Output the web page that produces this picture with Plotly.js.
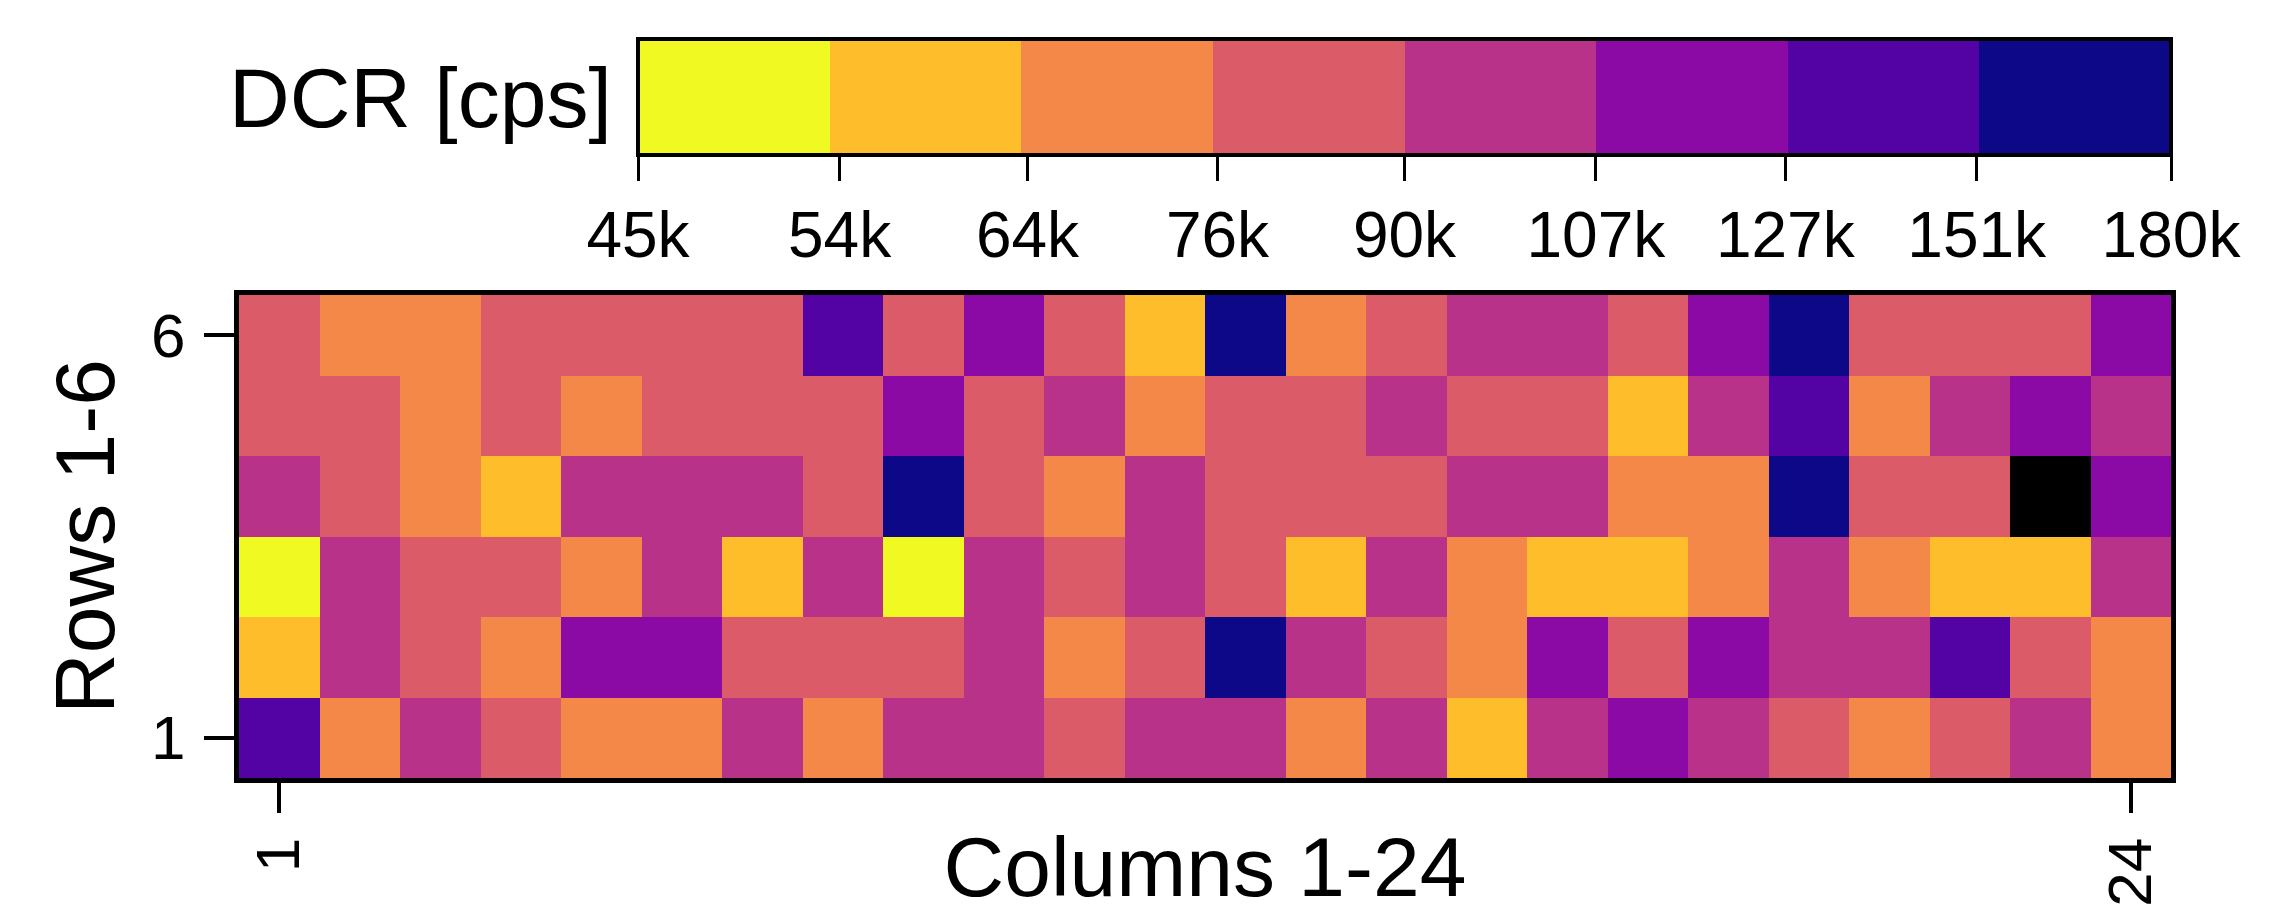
<!DOCTYPE html>
<html>
<head>
<meta charset="utf-8">
<script src="https://cdn.plot.ly/plotly-3.0.1.min.js"></script>
<style>html,body{margin:0;padding:0;background:#fff;}#chart{width:2288px;height:914px;}</style>
</head>
<body>
<div id="chart"></div>
<script>
// Columns 1-24 and rows 1-6
const columns = [1,2,3,4,5,6,7,8,9,10,11,12,13,14,15,16,17,18,19,20,21,22,23,24];
const rows = [1,2,3,4,5,6];

// Dark count rate per pixel [cps], one array per row (row 1 = bottom)
const row1 = [138500, 69800, 97200, 82400, 71300, 68900, 99100, 70600, 96400, 101200, 84700, 95800, 98300, 72100, 100500, 58700, 97900, 116300, 94600, 81900, 69200, 85300, 99700, 71800];
const row2 = [57900, 98800, 83600, 70200, 115400, 118900, 81200, 84100, 86300, 97400, 71500, 82700, 164800, 99600, 83900, 69700, 119200, 85100, 114700, 96100, 100900, 137600, 80800, 72400];
const row3 = [49700, 96900, 82300, 84800, 70900, 98700, 59800, 95300, 50600, 101700, 83300, 97600, 86100, 60400, 99200, 71200, 58300, 61100, 69400, 96300, 72600, 59200, 60700, 100300];
const row4 = [97700, 84400, 69100, 58800, 99900, 96600, 102300, 81700, 166900, 83100, 70700, 98100, 85700, 82800, 80600, 100100, 97300, 71600, 68700, 163200, 84200, 86700, 194800, 118300];
const row5 = [82100, 85900, 70400, 83700, 71900, 81400, 84600, 86900, 116900, 82600, 99400, 69600, 84900, 83200, 97100, 85400, 81600, 59400, 98600, 139800, 70100, 96800, 117700, 101400];
const row6 = [83400, 70800, 71700, 82900, 85200, 81100, 84300, 140600, 83800, 118600, 82500, 58600, 167400, 69900, 84000, 99000, 97500, 85600, 115900, 165600, 83500, 81800, 84500, 117100];
const dcr = [row1, row2, row3, row4, row5, row6];

// Colour bin edges [cps] and their labels
const binEdges = [45000, 54000, 64000, 76000, 90000, 107000, 127000, 151000, 180000];
const binLabels = ['45k','54k','64k','76k','90k','107k','127k','151k','180k'];
const binColors = ['#f0f921','#febd2a','#f48849','#db5c68','#b83289','#8b0aa5','#5302a3','#0d0887'];
const overColor = '#000000';

const FONT = 'Liberation Sans, Arial, Helvetica, sans-serif';
const zmin = Math.log10(binEdges[0]);
const zmax = Math.log10(binEdges[binEdges.length-1]);

const colorscale = [];
binColors.forEach((c, i) => {
  colorscale.push([i / binColors.length, c]);
  colorscale.push([(i + 1) / binColors.length, c]);
});

const zMain = dcr.map(r => r.map(v => Math.log10(v)));
const zOver = dcr.map(r => r.map(v => v > binEdges[binEdges.length-1] ? 1 : null));

const main = {
  type: 'heatmap',
  x: columns, y: rows, z: zMain,
  zmin: zmin, zmax: zmax,
  colorscale: colorscale,
  hoverinfo: 'skip',
  colorbar: {
    orientation: 'h',
    x: (638-239)/1932, xanchor: 'left',
    y: (778-39)/483, yanchor: 'top',
    lenmode: 'fraction', len: 1533/1932,
    thicknessmode: 'pixels', thickness: 116,
    xpad: 0, ypad: 0,
    outlinewidth: 4, outlinecolor: '#000',
    ticks: 'outside', ticklen: 24, tickwidth: 3, tickcolor: '#000',
    tickvals: binEdges.map(v => Math.log10(v)),
    ticktext: binLabels,
    tickfont: {family: FONT, size: 64, color: '#000'}
  }
};

const over = {
  type: 'heatmap',
  x: columns, y: rows, z: zOver,
  zmin: 0, zmax: 1,
  colorscale: [[0, overColor],[1, overColor]],
  showscale: false,
  hoverinfo: 'skip'
};

const layout = {
  width: 2288, height: 914,
  margin: {l: 239, r: 117, t: 295, b: 136, pad: 0},
  paper_bgcolor: '#fff', plot_bgcolor: '#fff',
  font: {family: FONT, color: '#000'},
  showlegend: false,
  xaxis: {
    range: [0.5, 24.5], tickvals: [1, 24], ticktext: ['1','24'],
    tickangle: -90,
    ticks: 'outside', ticklen: 30, tickwidth: 4, tickcolor: '#000',
    ticklabelstandoff: 0,
    showline: true, mirror: true, linewidth: 5, linecolor: '#000',
    showgrid: false, zeroline: false,
    tickfont: {family: FONT, size: 62, color: '#000'},
    title: {text: 'Columns 1-24', font: {family: FONT, size: 84, color: '#000'}, standoff: 32},
    automargin: false
  },
  yaxis: {
    range: [0.5, 6.5], tickvals: [1, 6], ticktext: ['1','6'],
    ticks: 'outside', ticklen: 30, tickwidth: 4, tickcolor: '#000',
    ticklabelstandoff: 6,
    showline: true, mirror: true, linewidth: 5, linecolor: '#000',
    showgrid: false, zeroline: false,
    tickfont: {family: FONT, size: 62, color: '#000'},
    title: {text: 'Rows 1-6', font: {family: FONT, size: 84, color: '#000'}, standoff: 10},
    automargin: false
  },
  annotations: [{
    text: 'DCR [cps]', showarrow: false,
    xref: 'paper', yref: 'paper',
    x: (614-239)/1932, xanchor: 'right',
    y: (778-98)/483, yanchor: 'middle',
    font: {family: FONT, size: 84, color: '#000'}
  }]
};

Plotly.newPlot('chart', [main, over], layout, {displayModeBar: false, staticPlot: true});
</script>
</body>
</html>
